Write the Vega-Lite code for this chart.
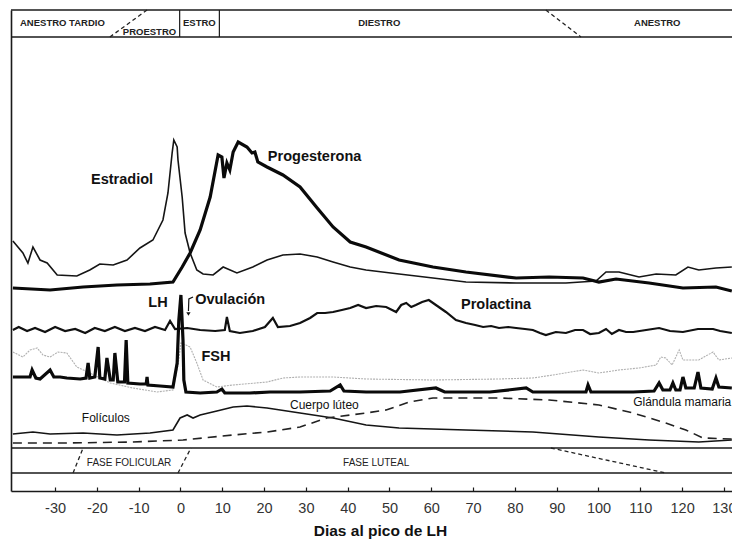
{
  "$schema": "https://vega.github.io/schema/vega-lite/v6.json",
  "width": 721,
  "height": 481,
  "autosize": "none",
  "padding": {"left": 11, "top": 10, "right": 0, "bottom": 48},
  "background": "white",
  "config": {"view": {"stroke": null}, "font": "Liberation Sans"},
  "datasets": {
    "curves": [
      {"series":"Estradiol","day":-40.1,"y":250},{"series":"Estradiol","day":-37.7,"y":238},{"series":"Estradiol","day":-36.5,"y":228},{"series":"Estradiol","day":-35.3,"y":244},{"series":"Estradiol","day":-33.6,"y":231},{"series":"Estradiol","day":-31.9,"y":228},{"series":"Estradiol","day":-29.5,"y":216},{"series":"Estradiol","day":-24.8,"y":215},{"series":"Estradiol","day":-21.7,"y":221},{"series":"Estradiol","day":-19.3,"y":227},{"series":"Estradiol","day":-16.1,"y":226},{"series":"Estradiol","day":-12.8,"y":231},{"series":"Estradiol","day":-9.7,"y":243},{"series":"Estradiol","day":-6.6,"y":251},{"series":"Estradiol","day":-4.2,"y":271},{"series":"Estradiol","day":-3.0,"y":298},{"series":"Estradiol","day":-2.0,"y":338},{"series":"Estradiol","day":-1.6,"y":351},{"series":"Estradiol","day":-0.8,"y":344},{"series":"Estradiol","day":-0.6,"y":331},{"series":"Estradiol","day":0.4,"y":294},{"series":"Estradiol","day":1.1,"y":258},{"series":"Estradiol","day":2.3,"y":238},{"series":"Estradiol","day":3.9,"y":221},{"series":"Estradiol","day":5.4,"y":217},{"series":"Estradiol","day":7.8,"y":216},{"series":"Estradiol","day":10.2,"y":224},{"series":"Estradiol","day":13.5,"y":218},{"series":"Estradiol","day":17.3,"y":224},{"series":"Estradiol","day":20.7,"y":231},{"series":"Estradiol","day":24.5,"y":236},{"series":"Estradiol","day":28.6,"y":237},{"series":"Estradiol","day":32.7,"y":234},{"series":"Estradiol","day":36.5,"y":229},{"series":"Estradiol","day":40.6,"y":224},{"series":"Estradiol","day":44.4,"y":221},{"series":"Estradiol","day":52.3,"y":217},{"series":"Estradiol","day":60.4,"y":213},{"series":"Estradiol","day":68.3,"y":209},{"series":"Estradiol","day":80.3,"y":208},{"series":"Estradiol","day":92.2,"y":208},{"series":"Estradiol","day":99.4,"y":210},{"series":"Estradiol","day":101.8,"y":219},{"series":"Estradiol","day":104.9,"y":219},{"series":"Estradiol","day":109.7,"y":214},{"series":"Estradiol","day":113.8,"y":217},{"series":"Estradiol","day":118.5,"y":216},{"series":"Estradiol","day":121.4,"y":224},{"series":"Estradiol","day":124.0,"y":221},{"series":"Estradiol","day":128.1,"y":223},{"series":"Estradiol","day":131.9,"y":224},

      {"series":"Progesterona","day":-40.1,"y":203},{"series":"Progesterona","day":-31.2,"y":201},{"series":"Progesterona","day":-23.3,"y":204},{"series":"Progesterona","day":-15.2,"y":206},{"series":"Progesterona","day":-7.3,"y":207},{"series":"Progesterona","day":-1.8,"y":209},{"series":"Progesterona","day":0.4,"y":224},{"series":"Progesterona","day":2.3,"y":238},{"series":"Progesterona","day":4.7,"y":261},{"series":"Progesterona","day":7.1,"y":294},{"series":"Progesterona","day":9.0,"y":336},{"series":"Progesterona","day":9.9,"y":334},{"series":"Progesterona","day":10.4,"y":313},{"series":"Progesterona","day":11.1,"y":328},{"series":"Progesterona","day":11.8,"y":321},{"series":"Progesterona","day":12.6,"y":339},{"series":"Progesterona","day":13.8,"y":349},{"series":"Progesterona","day":15.9,"y":344},{"series":"Progesterona","day":17.1,"y":338},{"series":"Progesterona","day":17.8,"y":339},{"series":"Progesterona","day":18.5,"y":329},{"series":"Progesterona","day":20.7,"y":324},{"series":"Progesterona","day":24.5,"y":316},{"series":"Progesterona","day":28.6,"y":304},{"series":"Progesterona","day":32.7,"y":283},{"series":"Progesterona","day":36.5,"y":264},{"series":"Progesterona","day":40.6,"y":249},{"series":"Progesterona","day":44.4,"y":244},{"series":"Progesterona","day":52.3,"y":231},{"series":"Progesterona","day":60.4,"y":224},{"series":"Progesterona","day":68.3,"y":219},{"series":"Progesterona","day":80.3,"y":213},{"series":"Progesterona","day":88.2,"y":214},{"series":"Progesterona","day":96.3,"y":213},{"series":"Progesterona","day":100.1,"y":209},{"series":"Progesterona","day":104.2,"y":212},{"series":"Progesterona","day":112.1,"y":208},{"series":"Progesterona","day":120.2,"y":203},{"series":"Progesterona","day":128.1,"y":204},{"series":"Progesterona","day":131.9,"y":200},

      {"series":"LH","day":-40.1,"y":114},{"series":"LH","day":-36.0,"y":114},{"series":"LH","day":-35.5,"y":121},{"series":"LH","day":-34.6,"y":113},{"series":"LH","day":-33.6,"y":112},{"series":"LH","day":-31.2,"y":121},{"series":"LH","day":-30.3,"y":114},{"series":"LH","day":-28.8,"y":114},{"series":"LH","day":-27.2,"y":113},{"series":"LH","day":-24.0,"y":112},{"series":"LH","day":-22.6,"y":113},{"series":"LH","day":-22.1,"y":128},{"series":"LH","day":-21.7,"y":113},{"series":"LH","day":-20.5,"y":114},{"series":"LH","day":-19.7,"y":144},{"series":"LH","day":-19.3,"y":113},{"series":"LH","day":-18.1,"y":112},{"series":"LH","day":-17.6,"y":133},{"series":"LH","day":-16.8,"y":111},{"series":"LH","day":-16.1,"y":111},{"series":"LH","day":-15.7,"y":138},{"series":"LH","day":-15.0,"y":109},{"series":"LH","day":-13.4,"y":109},{"series":"LH","day":-13.0,"y":151},{"series":"LH","day":-12.6,"y":108},{"series":"LH","day":-9.7,"y":107},{"series":"LH","day":-8.2,"y":107},{"series":"LH","day":-8.0,"y":114},{"series":"LH","day":-7.8,"y":106},{"series":"LH","day":-4.9,"y":105},{"series":"LH","day":-1.8,"y":104},{"series":"LH","day":-0.8,"y":128},{"series":"LH","day":-0.4,"y":171},{"series":"LH","day":0.1,"y":196},{"series":"LH","day":0.6,"y":151},{"series":"LH","day":0.8,"y":111},{"series":"LH","day":1.3,"y":99},{"series":"LH","day":4.7,"y":98},{"series":"LH","day":8.7,"y":99},{"series":"LH","day":9.9,"y":102},{"series":"LH","day":10.6,"y":98},{"series":"LH","day":16.6,"y":98},{"series":"LH","day":21.4,"y":99},{"series":"LH","day":28.6,"y":99},{"series":"LH","day":35.8,"y":100},{"series":"LH","day":38.2,"y":106},{"series":"LH","day":39.1,"y":100},{"series":"LH","day":44.4,"y":99},{"series":"LH","day":52.5,"y":99},{"series":"LH","day":61.1,"y":103},{"series":"LH","day":63.2,"y":99},{"series":"LH","day":74.0,"y":99},{"series":"LH","day":82.7,"y":103},{"series":"LH","day":84.3,"y":99},{"series":"LH","day":93.2,"y":99},{"series":"LH","day":97.0,"y":99},{"series":"LH","day":97.5,"y":106},{"series":"LH","day":98.2,"y":99},{"series":"LH","day":108.3,"y":99},{"series":"LH","day":113.3,"y":100},{"series":"LH","day":114.5,"y":108},{"series":"LH","day":115.4,"y":101},{"series":"LH","day":117.1,"y":101},{"series":"LH","day":117.8,"y":108},{"series":"LH","day":118.5,"y":101},{"series":"LH","day":119.5,"y":101},{"series":"LH","day":120.2,"y":114},{"series":"LH","day":120.9,"y":103},{"series":"LH","day":122.9,"y":103},{"series":"LH","day":123.8,"y":119},{"series":"LH","day":124.5,"y":103},{"series":"LH","day":127.2,"y":102},{"series":"LH","day":128.1,"y":113},{"series":"LH","day":128.8,"y":104},{"series":"LH","day":131.9,"y":103},

      {"series":"Prolactina","day":-40.1,"y":161},{"series":"Prolactina","day":-38.7,"y":164},{"series":"Prolactina","day":-36.7,"y":160},{"series":"Prolactina","day":-34.8,"y":163},{"series":"Prolactina","day":-32.4,"y":159},{"series":"Prolactina","day":-30.0,"y":164},{"series":"Prolactina","day":-27.6,"y":160},{"series":"Prolactina","day":-25.2,"y":162},{"series":"Prolactina","day":-22.8,"y":158},{"series":"Prolactina","day":-20.5,"y":163},{"series":"Prolactina","day":-18.1,"y":160},{"series":"Prolactina","day":-15.7,"y":164},{"series":"Prolactina","day":-13.3,"y":160},{"series":"Prolactina","day":-10.9,"y":163},{"series":"Prolactina","day":-8.5,"y":160},{"series":"Prolactina","day":-6.1,"y":164},{"series":"Prolactina","day":-3.7,"y":161},{"series":"Prolactina","day":-2.5,"y":170},{"series":"Prolactina","day":-1.3,"y":162},{"series":"Prolactina","day":1.6,"y":163},{"series":"Prolactina","day":4.7,"y":161},{"series":"Prolactina","day":8.3,"y":160},{"series":"Prolactina","day":10.6,"y":161},{"series":"Prolactina","day":11.1,"y":174},{"series":"Prolactina","day":11.8,"y":160},{"series":"Prolactina","day":14.2,"y":158},{"series":"Prolactina","day":17.3,"y":160},{"series":"Prolactina","day":20.2,"y":164},{"series":"Prolactina","day":22.1,"y":173},{"series":"Prolactina","day":23.3,"y":164},{"series":"Prolactina","day":26.2,"y":165},{"series":"Prolactina","day":28.6,"y":168},{"series":"Prolactina","day":31.0,"y":173},{"series":"Prolactina","day":32.7,"y":178},{"series":"Prolactina","day":34.6,"y":178},{"series":"Prolactina","day":36.5,"y":179},{"series":"Prolactina","day":38.6,"y":181},{"series":"Prolactina","day":40.6,"y":183},{"series":"Prolactina","day":42.5,"y":186},{"series":"Prolactina","day":44.4,"y":183},{"series":"Prolactina","day":46.8,"y":185},{"series":"Prolactina","day":49.2,"y":184},{"series":"Prolactina","day":51.6,"y":179},{"series":"Prolactina","day":52.8,"y":186},{"series":"Prolactina","day":54.0,"y":188},{"series":"Prolactina","day":55.2,"y":184},{"series":"Prolactina","day":56.3,"y":186},{"series":"Prolactina","day":57.8,"y":189},{"series":"Prolactina","day":59.4,"y":191},{"series":"Prolactina","day":61.1,"y":186},{"series":"Prolactina","day":63.5,"y":179},{"series":"Prolactina","day":65.9,"y":171},{"series":"Prolactina","day":68.3,"y":168},{"series":"Prolactina","day":70.5,"y":166},{"series":"Prolactina","day":72.4,"y":164},{"series":"Prolactina","day":74.3,"y":165},{"series":"Prolactina","day":76.2,"y":163},{"series":"Prolactina","day":78.4,"y":164},{"series":"Prolactina","day":80.3,"y":163},{"series":"Prolactina","day":82.4,"y":162},{"series":"Prolactina","day":84.3,"y":161},{"series":"Prolactina","day":86.0,"y":158},{"series":"Prolactina","day":87.4,"y":156},{"series":"Prolactina","day":89.8,"y":159},{"series":"Prolactina","day":92.2,"y":158},{"series":"Prolactina","day":94.4,"y":161},{"series":"Prolactina","day":96.3,"y":161},{"series":"Prolactina","day":98.0,"y":157},{"series":"Prolactina","day":100.1,"y":158},{"series":"Prolactina","day":101.8,"y":162},{"series":"Prolactina","day":103.2,"y":157},{"series":"Prolactina","day":104.9,"y":161},{"series":"Prolactina","day":106.6,"y":159},{"series":"Prolactina","day":108.3,"y":159},{"series":"Prolactina","day":111.4,"y":161},{"series":"Prolactina","day":114.5,"y":163},{"series":"Prolactina","day":117.1,"y":160},{"series":"Prolactina","day":120.2,"y":159},{"series":"Prolactina","day":123.8,"y":162},{"series":"Prolactina","day":127.4,"y":162},{"series":"Prolactina","day":129.1,"y":160},{"series":"Prolactina","day":131.9,"y":158},

      {"series":"FSH","day":-40.1,"y":139},{"series":"FSH","day":-37.7,"y":134},{"series":"FSH","day":-36.0,"y":141},{"series":"FSH","day":-34.3,"y":143},{"series":"FSH","day":-32.9,"y":136},{"series":"FSH","day":-31.2,"y":134},{"series":"FSH","day":-29.3,"y":139},{"series":"FSH","day":-27.2,"y":138},{"series":"FSH","day":-24.8,"y":124},{"series":"FSH","day":-21.7,"y":118},{"series":"FSH","day":-19.3,"y":113},{"series":"FSH","day":-16.8,"y":108},{"series":"FSH","day":-11.4,"y":103},{"series":"FSH","day":-5.6,"y":99},{"series":"FSH","day":-1.8,"y":101},{"series":"FSH","day":-0.6,"y":126},{"series":"FSH","day":0.1,"y":148},{"series":"FSH","day":1.3,"y":146},{"series":"FSH","day":2.3,"y":144},{"series":"FSH","day":3.9,"y":128},{"series":"FSH","day":5.4,"y":111},{"series":"FSH","day":8.7,"y":104},{"series":"FSH","day":12.6,"y":106},{"series":"FSH","day":20.7,"y":109},{"series":"FSH","day":24.5,"y":113},{"series":"FSH","day":28.6,"y":114},{"series":"FSH","day":36.5,"y":114},{"series":"FSH","day":44.4,"y":112},{"series":"FSH","day":60.4,"y":111},{"series":"FSH","day":76.2,"y":112},{"series":"FSH","day":84.3,"y":113},{"series":"FSH","day":89.1,"y":116},{"series":"FSH","day":96.3,"y":121},{"series":"FSH","day":100.1,"y":118},{"series":"FSH","day":104.9,"y":121},{"series":"FSH","day":109.7,"y":123},{"series":"FSH","day":113.8,"y":126},{"series":"FSH","day":114.9,"y":134},{"series":"FSH","day":116.1,"y":133},{"series":"FSH","day":117.6,"y":126},{"series":"FSH","day":119.3,"y":141},{"series":"FSH","day":120.2,"y":131},{"series":"FSH","day":124.0,"y":131},{"series":"FSH","day":127.4,"y":139},{"series":"FSH","day":128.8,"y":131},{"series":"FSH","day":131.9,"y":133},

      {"series":"Foliculos","day":-40.1,"y":57},{"series":"Foliculos","day":-35.3,"y":59},{"series":"Foliculos","day":-31.2,"y":57},{"series":"Foliculos","day":-23.3,"y":58},{"series":"Foliculos","day":-15.2,"y":56},{"series":"Foliculos","day":-7.3,"y":58},{"series":"Foliculos","day":-1.8,"y":61},{"series":"Foliculos","day":-0.1,"y":73},{"series":"Foliculos","day":1.6,"y":76},{"series":"Foliculos","day":3.0,"y":73},{"series":"Foliculos","day":4.7,"y":76},{"series":"Foliculos","day":8.7,"y":80},{"series":"Foliculos","day":12.6,"y":84},{"series":"Foliculos","day":15.9,"y":85},{"series":"Foliculos","day":20.7,"y":83},{"series":"Foliculos","day":28.6,"y":78},{"series":"Foliculos","day":36.5,"y":73},{"series":"Foliculos","day":44.4,"y":66},{"series":"Foliculos","day":52.3,"y":63},{"series":"Foliculos","day":68.3,"y":61},{"series":"Foliculos","day":84.3,"y":59},{"series":"Foliculos","day":100.1,"y":54},{"series":"Foliculos","day":112.1,"y":51},{"series":"Foliculos","day":124.0,"y":49},{"series":"Foliculos","day":131.9,"y":51},

      {"series":"Glandula","day":-40.1,"y":48},{"series":"Glandula","day":-27.2,"y":48},{"series":"Glandula","day":-11.4,"y":49},{"series":"Glandula","day":0.6,"y":51},{"series":"Glandula","day":12.6,"y":56},{"series":"Glandula","day":20.7,"y":59},{"series":"Glandula","day":28.6,"y":64},{"series":"Glandula","day":35.0,"y":73},{"series":"Glandula","day":40.6,"y":76},{"series":"Glandula","day":44.4,"y":78},{"series":"Glandula","day":49.2,"y":81},{"series":"Glandula","day":54.7,"y":89},{"series":"Glandula","day":60.4,"y":93},{"series":"Glandula","day":76.2,"y":93},{"series":"Glandula","day":88.2,"y":91},{"series":"Glandula","day":100.1,"y":86},{"series":"Glandula","day":108.3,"y":78},{"series":"Glandula","day":116.1,"y":68},{"series":"Glandula","day":120.9,"y":61},{"series":"Glandula","day":125.0,"y":53},{"series":"Glandula","day":131.9,"y":52}
    ],
    "labels": [
      {"label":"Estradiol","style":"big","day":-21.4,"y":311},
      {"label":"Progesterona","style":"big","day":20.9,"y":334},
      {"label":"LH","style":"big","day":-7.7,"y":188},
      {"label":"Ovulación","style":"big","day":3.5,"y":191},
      {"label":"FSH","style":"big","day":5.0,"y":134},
      {"label":"Prolactina","style":"big","day":67.1,"y":186},
      {"label":"Folículos","style":"small","day":-23.6,"y":73},
      {"label":"Cuerpo lúteo","style":"small","day":26.2,"y":86},
      {"label":"Glándula mamaria","style":"small","day":108.3,"y":89},
      {"label":"ANESTRO TARDIO","style":"head","day":-38.4,"y":468},
      {"label":"PROESTRO","style":"head","day":-13.8,"y":459},
      {"label":"ESTRO","style":"head","day":0.6,"y":468},
      {"label":"DIESTRO","style":"head","day":42.5,"y":468},
      {"label":"ANESTRO","style":"head","day":108.5,"y":468},
      {"label":"FASE FOLICULAR","style":"foot","day":-22.4,"y":28},
      {"label":"FASE LUTEAL","style":"foot","day":38.9,"y":28}
    ]
  },
  "layer": [
    {
      "data": {"values": [{"y": 481}, {"y": 454}, {"y": 43}, {"y": 18}]},
      "mark": {"type": "rule", "color": "#1a1a1a", "strokeWidth": 1.3},
      "encoding": {
        "y": {"field": "y", "type": "quantitative", "scale": {"domain": [0, 481], "nice": false, "zero": false},
              "axis": {"domain": true, "domainColor": "#1a1a1a", "domainWidth": 1.6, "ticks": false, "labels": false, "grid": false, "title": null}}
      }
    },
    {
      "data": {"values": [{"day": -0.2, "y": 454, "y2": 481}, {"day": 9.3, "y": 454, "y2": 481}]},
      "mark": {"type": "rule", "color": "#1a1a1a", "strokeWidth": 1.2},
      "encoding": {
        "x": {"field": "day", "type": "quantitative", "scale": {"domain": [-40.55, 131.94], "nice": false, "zero": false},
              "axis": {"values": [-30,-20,-10,0,10,20,30,40,50,60,70,80,90,100,110,120,130], "grid": false,
                       "labelExpr": "datum.value < 0 ? '-' + abs(datum.value) : '' + datum.value",
                       "domainColor": "#1a1a1a", "domainWidth": 1.6, "tickColor": "#1a1a1a", "tickSize": -4, "tickWidth": 1.2,
                       "labelPadding": 14, "labelFontSize": 14.5, "labelColor": "#333333", "labelFont": "Liberation Sans",
                       "labelFlush": false, "labelOverlap": false,
                       "title": "Dias al pico de LH", "titleFont": "Liberation Sans", "titleFontSize": 15.5, "titleFontWeight": "bold",
                       "titleColor": "#111111", "titlePadding": 9, "titleX": 369}},
        "y": {"field": "y", "type": "quantitative"},
        "y2": {"field": "y2"}
      }
    },
    {
      "data": {"values": [
        {"day": -16.9, "y": 454, "day2": -8.0, "y2": 481},
        {"day": 87.4, "y": 481, "day2": 95.8, "y2": 454},
        {"day": -25.7, "y": 18, "day2": -23.3, "y2": 43},
        {"day": -0.6, "y": 18, "day2": 2.5, "y2": 43},
        {"day": 88.6, "y": 43, "day2": 116.1, "y2": 18}
      ]},
      "mark": {"type": "rule", "color": "#222222", "strokeWidth": 1.3, "strokeDash": [4, 3]},
      "encoding": {
        "x": {"field": "day", "type": "quantitative"},
        "x2": {"field": "day2"},
        "y": {"field": "y", "type": "quantitative"},
        "y2": {"field": "y2"}
      }
    },
    {
      "data": {"name": "curves"},
      "transform": [{"filter": "datum.series === 'FSH'"}],
      "mark": {"type": "line", "color": "#b0b0b0", "strokeWidth": 1.1, "strokeDash": [2, 1]},
      "encoding": {
        "x": {"field": "day", "type": "quantitative"},
        "y": {"field": "y", "type": "quantitative"},
        "detail": {"field": "series"}
      }
    },
    {
      "data": {"name": "curves"},
      "transform": [{"filter": "datum.series === 'Estradiol' || datum.series === 'Foliculos'"}],
      "mark": {"type": "line", "color": "#151515", "strokeWidth": 1.6},
      "encoding": {
        "x": {"field": "day", "type": "quantitative"},
        "y": {"field": "y", "type": "quantitative"},
        "detail": {"field": "series"}
      }
    },
    {
      "data": {"name": "curves"},
      "transform": [{"filter": "datum.series === 'Glandula'"}],
      "mark": {"type": "line", "color": "#222222", "strokeWidth": 1.6, "strokeDash": [9, 6]},
      "encoding": {
        "x": {"field": "day", "type": "quantitative"},
        "y": {"field": "y", "type": "quantitative"},
        "detail": {"field": "series"}
      }
    },
    {
      "data": {"name": "curves"},
      "transform": [{"filter": "datum.series === 'Prolactina'"}],
      "mark": {"type": "line", "color": "#111111", "strokeWidth": 2.2},
      "encoding": {
        "x": {"field": "day", "type": "quantitative"},
        "y": {"field": "y", "type": "quantitative"},
        "detail": {"field": "series"}
      }
    },
    {
      "data": {"name": "curves"},
      "transform": [{"filter": "datum.series === 'Progesterona' || datum.series === 'LH'"}],
      "mark": {"type": "line", "color": "#0a0a0a", "strokeWidth": 3.2},
      "encoding": {
        "x": {"field": "day", "type": "quantitative"},
        "y": {"field": "y", "type": "quantitative"},
        "detail": {"field": "series"}
      }
    },
    {
      "data": {"values": [{"day": 3.0, "y": 194}, {"day": 2.0, "y": 192}, {"day": 1.9, "y": 180}]},
      "mark": {"type": "line", "color": "#111111", "strokeWidth": 1.2},
      "encoding": {
        "x": {"field": "day", "type": "quantitative"},
        "y": {"field": "y", "type": "quantitative"},
        "order": {"field": "y", "sort": "descending"}
      }
    },
    {
      "data": {"values": [{"day": 1.9, "y": 177}]},
      "mark": {"type": "point", "shape": "triangle-down", "filled": true, "color": "#111111", "size": 18, "opacity": 1},
      "encoding": {
        "x": {"field": "day", "type": "quantitative"},
        "y": {"field": "y", "type": "quantitative"}
      }
    },
    {
      "data": {"name": "labels"},
      "transform": [{"filter": "datum.style === 'big'"}],
      "mark": {"type": "text", "align": "left", "baseline": "middle", "font": "Liberation Sans", "fontSize": 14.5, "fontWeight": "bold", "color": "#111111"},
      "encoding": {
        "x": {"field": "day", "type": "quantitative"},
        "y": {"field": "y", "type": "quantitative"},
        "text": {"field": "label"}
      }
    },
    {
      "data": {"name": "labels"},
      "transform": [{"filter": "datum.style === 'small'"}],
      "mark": {"type": "text", "align": "left", "baseline": "middle", "font": "Liberation Sans", "fontSize": 12, "color": "#111111"},
      "encoding": {
        "x": {"field": "day", "type": "quantitative"},
        "y": {"field": "y", "type": "quantitative"},
        "text": {"field": "label"}
      }
    },
    {
      "data": {"name": "labels"},
      "transform": [{"filter": "datum.style === 'head'"}],
      "mark": {"type": "text", "align": "left", "baseline": "middle", "font": "Liberation Sans", "fontSize": 9.5, "fontWeight": "bold", "color": "#222222"},
      "encoding": {
        "x": {"field": "day", "type": "quantitative"},
        "y": {"field": "y", "type": "quantitative"},
        "text": {"field": "label"}
      }
    },
    {
      "data": {"name": "labels"},
      "transform": [{"filter": "datum.style === 'foot'"}],
      "mark": {"type": "text", "align": "left", "baseline": "middle", "font": "Liberation Sans", "fontSize": 10, "color": "#222222"},
      "encoding": {
        "x": {"field": "day", "type": "quantitative"},
        "y": {"field": "y", "type": "quantitative"},
        "text": {"field": "label"}
      }
    }
  ]
}
